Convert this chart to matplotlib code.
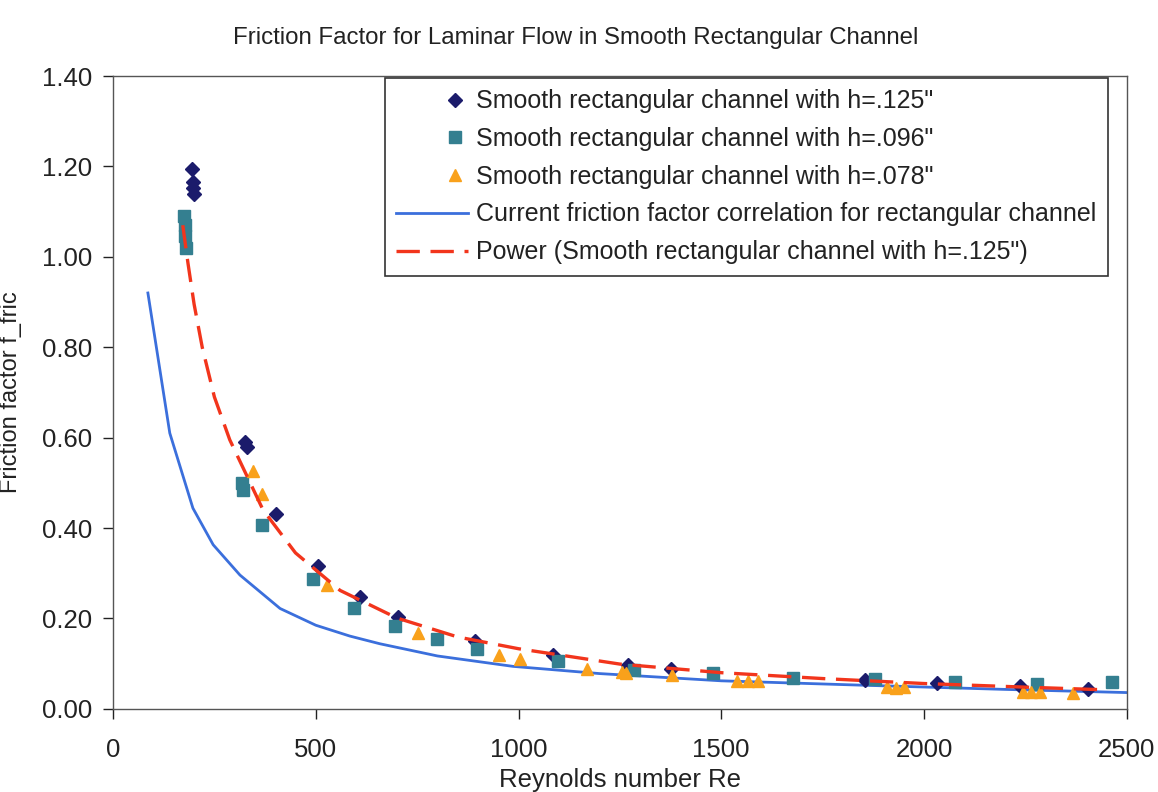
import matplotlib
matplotlib.use("Agg")
import matplotlib.pyplot as plt
import numpy as np
from matplotlib.legend_handler import HandlerLine2DCompound

# ---- data ----
h125_re = [195, 197, 198, 200, 326, 330, 402, 505, 609, 703, 892, 1085, 1270, 1376, 1854, 2032, 2236, 2404]
h125_f = [1.195, 1.165, 1.152, 1.14, 0.59, 0.58, 0.43, 0.316, 0.248, 0.204, 0.151, 0.119, 0.097, 0.089,
          0.064, 0.058, 0.050, 0.044]

h096_re = [176, 177, 178, 179, 318, 320, 367, 493, 594, 695, 799, 897, 1097, 1285, 1479, 1677, 1879, 2076,
           2278, 2463]
h096_f = [1.09, 1.07, 1.045, 1.02, 0.50, 0.485, 0.406, 0.287, 0.224, 0.183, 0.154, 0.133, 0.105, 0.086,
          0.080, 0.069, 0.066, 0.059, 0.056, 0.059]

h078_re = [345, 367, 528, 752, 952, 1003, 1169, 1255, 1265, 1378, 1540, 1565, 1590, 1910, 1930, 1950,
           2245, 2265, 2285, 2367]
h078_f = [0.526, 0.475, 0.273, 0.168, 0.119, 0.110, 0.089, 0.081, 0.080, 0.075, 0.062, 0.061, 0.062,
          0.048, 0.047, 0.048, 0.038, 0.037, 0.038, 0.034]

corr_re = [86, 140, 197, 247, 313, 412, 500, 584, 658, 800, 986, 1200, 1500, 1859, 2200, 2500]
corr_f = [0.92, 0.61, 0.444, 0.363, 0.296, 0.222, 0.185, 0.161, 0.144, 0.117, 0.094, 0.078, 0.062,
          0.052, 0.043, 0.036]

trend_re = [172, 185, 200, 220, 250, 288, 370, 450, 560, 700, 850, 1000, 1250, 1500, 1750, 2000, 2250, 2450]
trend_f = [1.07, 0.985, 0.895, 0.80, 0.69, 0.595, 0.44, 0.345, 0.262, 0.201, 0.159, 0.133, 0.099, 0.080,
           0.067, 0.056, 0.048, 0.042]

labels = ['Smooth rectangular channel with h=.125"',
          'Smooth rectangular channel with h=.096"',
          'Smooth rectangular channel with h=.078"',
          'Current friction factor correlation for rectangular channel',
          'Power (Smooth rectangular channel with h=.125")']

xticks = [0, 500, 1000, 1500, 2000, 2500]
yticks = [0.0, 0.2, 0.4, 0.6, 0.8, 1.0, 1.2, 1.4]


class RightMarker(HandlerLine2DCompound):
    def get_xdata(self, legend, xdescent, ydescent, width, height, fontsize):
        xdata = np.array([-xdescent, -xdescent + width])
        xm = np.array([-xdescent + 0.82 * width])
        return xdata, xm


plt.rcParams['font.family'] = ['Liberation Sans', 'DejaVu Sans']

fig = plt.figure(figsize=(11.58, 7.92), dpi=100)
ax = fig.add_axes([0.0976, 0.105, 0.8754, 0.799])

l1, = ax.plot(h125_re, h125_f, linestyle='none', marker='D', markersize=7, color='#1b1b6b', zorder=3)
l2, = ax.plot(h096_re, h096_f, linestyle='none', marker='s', markersize=8, color='#347f90', zorder=3)
l3, = ax.plot(h078_re, h078_f, linestyle='none', marker='^', markersize=9, color='#f9a11b', zorder=3)
l4, = ax.plot(corr_re, corr_f, color='#3b6fdc', linewidth=2.0, zorder=2)
l5, = ax.plot(trend_re, trend_f, color='#f2351c', linewidth=2.4, dashes=(7, 3.2), zorder=4)

ax.set_xlim(0, 2500)
ax.set_ylim(0, 1.4)
ax.set_xticks(xticks)
ax.set_xticklabels([str(v) for v in xticks])
ax.set_yticks(yticks)
ax.set_yticklabels(['%.2f' % v for v in yticks])
ax.tick_params(direction='out', length=7, width=1, labelsize=18.5, pad=8, colors='#222222')
ax.tick_params(axis='x', pad=14)
for s in ax.spines.values():
    s.set_color('#555555')
    s.set_linewidth(1.0)

fig.text(0.497, 0.952, 'Friction Factor for Laminar Flow in Smooth Rectangular Channel',
         ha='center', va='center', fontsize=17.3, color='#222222')
ax.set_xlabel('Reynolds number Re', fontsize=18.5, color='#222222', labelpad=4)
ax.set_ylabel('Friction factor f_fric', fontsize=17, color='#222222', labelpad=14)

rm = RightMarker()
leg = ax.legend([l1, l2, l3, l4, l5], labels, loc='upper right',
                bbox_to_anchor=(1108 / 1158, 1 - 78 / 792), bbox_transform=fig.transFigure,
                borderaxespad=0, fontsize=18, frameon=True, fancybox=False, framealpha=1,
                edgecolor='#333333', handlelength=2.9, handletextpad=0.33, labelspacing=0.55,
                borderpad=0.45, numpoints=1,
                handler_map={l1: rm, l2: rm, l3: rm})
leg.get_frame().set_linewidth(1.2)
for t in leg.get_texts():
    t.set_color('#222222')

fig.savefig('out.png', dpi=100)
